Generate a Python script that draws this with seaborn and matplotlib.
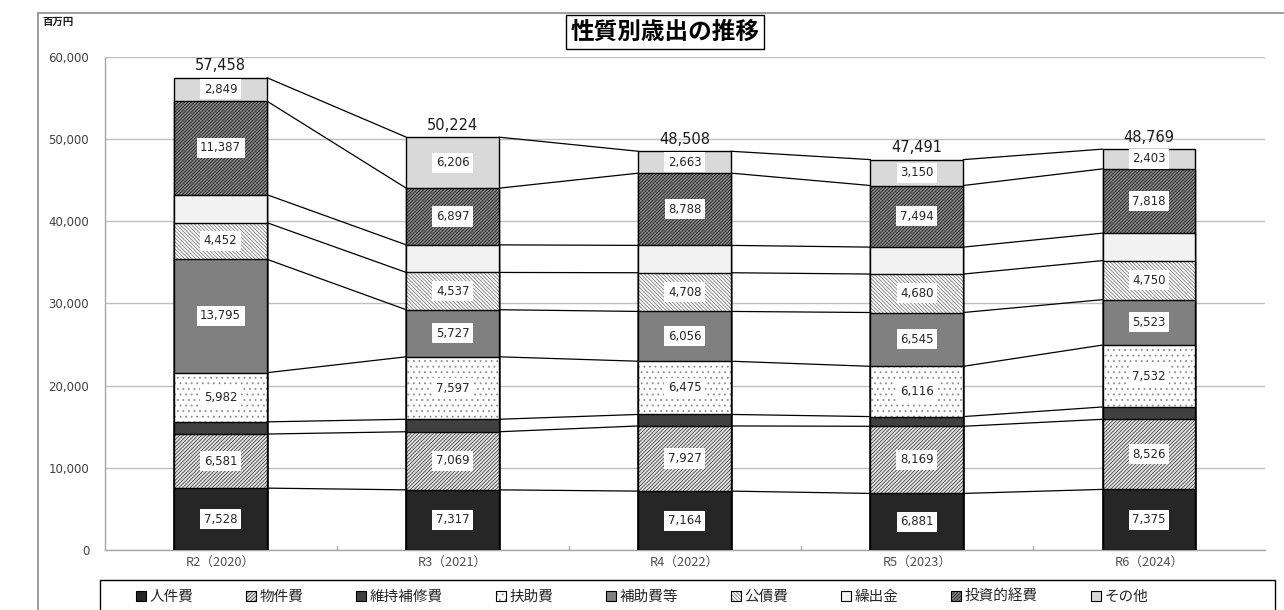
import numpy as np
import pandas as pd
import matplotlib
matplotlib.use("Agg")
import matplotlib.pyplot as plt
import matplotlib.patches as mpatches
from matplotlib.lines import Line2D
from matplotlib.colors import to_rgba
import seaborn as sns

# ---------------- data ----------------
categories = ["R2（2020）", "R3（2021）", "R4（2022）", "R5（2023）", "R6（2024）"]
series_names = ["人件費", "物件費", "維持補修費", "扶助費", "補助費等", "公債費", "繰出金", "投資的経費", "その他"]
jinkenhi = [7528, 7317, 7164, 6881, 7375]
bukkenhi = [6581, 7069, 7927, 8169, 8526]
ijihoshuhi = [1480, 1520, 1400, 1180, 1500]
fujohi = [5982, 7597, 6475, 6116, 7532]
hojohito = [13795, 5727, 6056, 6545, 5523]
kosaihi = [4452, 4537, 4708, 4680, 4750]
kuridashikin = [3404, 3354, 3327, 3276, 3342]
toshitekikeihi = [11387, 6897, 8788, 7494, 7818]
sonota = [2849, 6206, 2663, 3150, 2403]
labeled = [True, True, False, True, True, True, False, True, True]
yticks = [0, 10000, 20000, 30000, 40000, 50000, 60000]

values = [jinkenhi, bukkenhi, ijihoshuhi, fujohi, hojohito, kosaihi,
          kuridashikin, toshitekikeihi, sonota]

# styles: facecolor, hatch, hatch colour
styles = [
    ("#262626", None, "#262626"),
    ("#e6e6e6", "/" * 9, "#404040"),
    ("#404040", None, "#404040"),
    ("#ffffff", "...", "#8c8c8c"),
    ("#808080", None, "#808080"),
    ("#ffffff", "\\" * 9, "#7a7a7a"),
    ("#f2f2f2", None, "#f2f2f2"),
    ("#8c8c8c", "/" * 10, "#1a1a1a"),
    ("#d9d9d9", None, "#d9d9d9"),
]

sns.set_theme(style="white")
plt.rcParams["font.family"] = ["Noto Sans CJK JP", "DejaVu Sans"]
plt.rcParams["hatch.linewidth"] = 0.6

W, H = 1284, 610
fig = plt.figure(figsize=(W / 100, H / 100), dpi=100)
ax = fig.add_axes([104.5 / W, 60 / H, 1160.5 / W, 493.2 / H])

vals = np.array(values, dtype=float)
cum = np.cumsum(vals, axis=0)
bar_w = 0.4


def set_hatch_color(p, c):
    try:
        p.set_hatchcolor(c)
    except AttributeError:
        p._hatch_color = to_rgba(c)


# draw cumulative bars from the top layer down (seaborn barplot)
for i in range(len(series_names) - 1, -1, -1):
    fc, hatch, hc = styles[i]
    df = pd.DataFrame({"cat": categories, "v": cum[i]})
    n0 = len(ax.patches)
    sns.barplot(data=df, x="cat", y="v", color=fc, saturation=1, width=bar_w,
                edgecolor="black", linewidth=1.0, hatch=hatch, errorbar=None,
                ax=ax, zorder=3)
    for p in ax.patches[n0:]:
        p.set_facecolor(fc)
        set_hatch_color(p, hc)

# connecting lines between bars
for i in range(len(series_names)):
    for j in range(len(categories) - 1):
        ax.plot([j + bar_w / 2, j + 1 - bar_w / 2], [cum[i][j], cum[i][j + 1]],
                color="black", lw=0.9, zorder=2)

# value labels
for i in range(len(series_names)):
    if not labeled[i]:
        continue
    for j in range(len(categories)):
        yc = cum[i][j] - vals[i][j] / 2
        ax.text(j, yc, f"{int(vals[i][j]):,}", ha="center", va="center",
                fontsize=8.5, color="#262626", zorder=5,
                family=["DejaVu Sans"],
                bbox=dict(boxstyle="square,pad=0.3", fc="white", ec="none"))

# totals
for j in range(len(categories)):
    ax.text(j, cum[-1][j] + 550, f"{int(cum[-1][j]):,}", ha="center", va="bottom",
            fontsize=10.5, color="#1a1a1a", zorder=5, family=["DejaVu Sans"])

ax.set_xlim(-0.5, len(categories) - 0.5)
ax.set_ylim(0, 60000)
ax.set_yticks(yticks)
ax.set_yticklabels([f"{v:,}" for v in yticks], fontsize=8.5, color="#404040",
                   family=["DejaVu Sans"])
ax.tick_params(axis="y", length=0, pad=11)
ax.set_xticks(range(len(categories)))
ax.set_xticklabels(categories, fontsize=9.2, color="#505050")
ax.tick_params(axis="x", length=0, pad=5)
ax.set_xlabel("")
ax.set_ylabel("")
ax.yaxis.grid(True, color="#bfbfbf", lw=1.0, zorder=0)
ax.set_axisbelow(True)
for s in ["top", "right"]:
    ax.spines[s].set_visible(False)
ax.spines["left"].set_color("#a6a6a6")
ax.spines["bottom"].set_color("#a6a6a6")
ax.spines["left"].set_linewidth(1.0)
ax.spines["bottom"].set_linewidth(1.0)
# category separator ticks
for j in range(len(categories) - 1):
    ax.plot([j + 0.5, j + 0.5], [0, 500], color="#a6a6a6", lw=1, zorder=1)

# title (boxed)
fig.text(665 / W, 1 - 32 / H, "性質別歳出の推移", ha="center", va="center",
         fontsize=17, fontweight="bold", color="black",
         bbox=dict(boxstyle="square,pad=0.2", fc="white", ec="black", lw=1.0))
# unit label
fig.text(42 / W, 1 - 22 / H, "百万円", ha="left", va="center", fontsize=7.5,
         fontweight="bold", color="#1a1a1a")

# outer frame
fig.add_artist(Line2D([38 / W, 38 / W], [0, 1 - 13 / H], color="#8c8c8c", lw=1.2,
                      transform=fig.transFigure))
fig.add_artist(Line2D([38 / W, 1], [1 - 13 / H, 1 - 13 / H], color="#8c8c8c", lw=1.2,
                      transform=fig.transFigure))

# legend box
fig.add_artist(mpatches.Rectangle((100 / W, -0.01), 1175 / W, (30 / H) + 0.01,
                                  transform=fig.transFigure, fc="white", ec="black",
                                  lw=1.0, zorder=1))
handles = []
for i, name in enumerate(series_names):
    fc, hatch, hc = styles[i]
    p = mpatches.Patch(facecolor=fc, edgecolor="black", hatch=hatch, lw=0.8, label=name)
    set_hatch_color(p, hc)
    handles.append(p)
leg = fig.legend(handles=handles, loc="center", ncol=9,
                 bbox_to_anchor=(642 / W, 1 - 597 / H), frameon=False,
                 fontsize=10.5, handlelength=0.7, handleheight=0.7,
                 handletextpad=0.25, columnspacing=3.6)
leg.set_zorder(5)

fig.savefig("out.png", dpi=100)
